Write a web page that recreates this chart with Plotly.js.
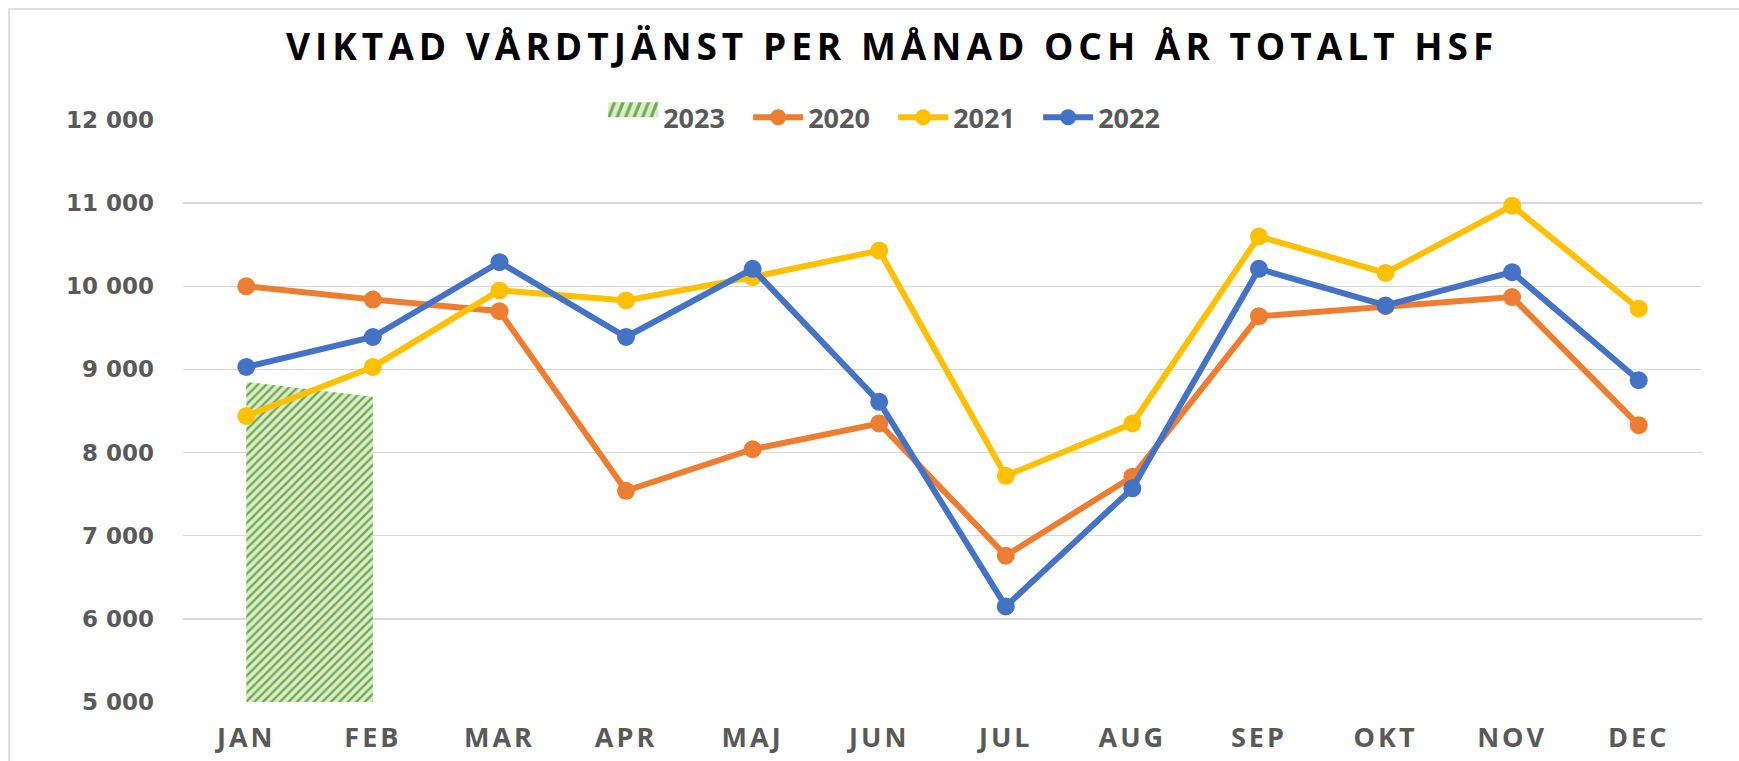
<!DOCTYPE html>
<html>
<head>
<meta charset="utf-8">
<script src="https://cdn.plot.ly/plotly-3.0.1.min.js"></script>
<style>
  html, body { margin: 0; padding: 0; background: #fff; }
  #chart { width: 1739px; height: 761px; position: relative; }
  #frame { position: absolute; left: 8px; top: 8px; width: 1760px; height: 800px; border: 2px solid #e0e0e0; pointer-events: none; box-sizing: border-box; }
  .gtitle { letter-spacing: 5px; }
  .xtick text { letter-spacing: 3px; }
  .legendfill path.js-fill { transform: translate(0px, -7.5px) scale(1, 2.5); }
</style>
</head>
<body>
<div id="chart"></div>
<div id="frame"></div>
<script>
const months = ["JAN","FEB","MAR","APR","MAJ","JUN","JUL","AUG","SEP","OKT","NOV","DEC"];
const y2020 = [10000, 9840, 9700, 7540, 8040, 8350, 6760, 7710, 9640, 9760, 9870, 8330];
const y2021 = [8440, 9030, 9950, 9830, 10110, 10430, 7720, 8350, 10600, 10160, 10970, 9730];
const y2022 = [9030, 9390, 10290, 9390, 10210, 8610, 6150, 7570, 10210, 9770, 10170, 8870];
const months2023 = ["JAN","FEB"];
const y2023 = [8850, 8670];

const lineTrace = (name, y, color) => ({
  type: "scatter", mode: "lines+markers", name: name, x: months, y: y,
  line: { color: color, width: 6 },
  marker: { color: color, size: 18 }
});

const traces = [
  {
    type: "scatter", mode: "none", name: "2023", x: months2023, y: y2023,
    fill: "tozeroy", fillcolor: "#dcebd0",
    fillpattern: { shape: "/", fgcolor: "#70ad47", bgcolor: "#dcebd0", size: 6, solidity: 0.4 }
  },
  lineTrace("2020", y2020, "#ed7d31"),
  lineTrace("2021", y2021, "#ffc000"),
  lineTrace("2022", y2022, "#4472c4")
];

const layout = {
  width: 1739, height: 761,
  paper_bgcolor: "#ffffff", plot_bgcolor: "#ffffff",
  margin: { l: 183, r: 37, t: 120, b: 59 },
  separators: ", ",
  font: { family: "Open Sans, sans-serif", color: "#595959" },
  title: {
    text: "VIKTAD VÅRDTJÄNST PER MÅNAD OCH ÅR TOTALT HSF",
    font: { family: "Open Sans, sans-serif", size: 37, weight: 700, color: "#000000" },
    xref: "container", x: 0.513, xanchor: "center",
    yref: "container", y: 0.938, yanchor: "middle"
  },
  xaxis: {
    type: "category", range: [-0.5, 11.5], autorange: false,
    showgrid: false, zeroline: false, showline: false, ticks: "",
    tickfont: { family: "Open Sans, sans-serif", size: 27, weight: 700, color: "#595959" },
    ticklabelstandoff: 17
  },
  yaxis: {
    range: [5000, 12000], dtick: 1000, tickformat: ",d",
    showgrid: true, gridcolor: "#d9d9d9", gridwidth: 1.3, zeroline: false, showline: false, ticks: "",
    tickfont: { family: "DejaVu Sans, sans-serif", size: 23, weight: 700, color: "#595959" },
    ticklabelstandoff: 28
  },
  legend: {
    orientation: "h", x: 0.2766, xanchor: "left", y: 1.004, yanchor: "middle",
    bgcolor: "rgba(0,0,0,0)", itemwidth: 50, entrywidth: 80, entrywidthmode: "pixels",
    font: { family: "Open Sans, sans-serif", size: 27, weight: 700, color: "#595959" }
  },
  showlegend: true
};

Plotly.newPlot("chart", traces, layout, { displayModeBar: false, staticPlot: true });
</script>
</body>
</html>
